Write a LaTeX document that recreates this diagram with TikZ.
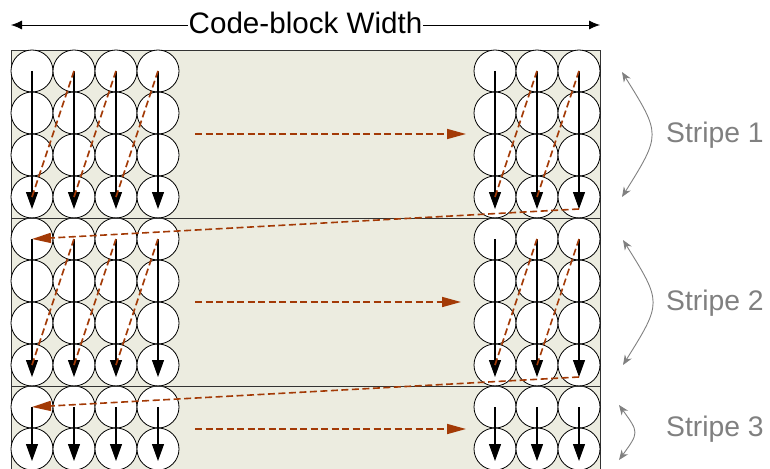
\documentclass[tikz,border=0pt]{standalone}
\usepackage{fontspec}
\setmainfont{Liberation Sans}
\usetikzlibrary{arrows.meta}
\definecolor{sheet}{RGB}{236,236,224}
\definecolor{scan}{RGB}{163,58,6}
\definecolor{note}{RGB}{128,128,128}
\tikzset{
  cell/.style={circle, draw=black, fill=white, line width=0.8pt, minimum size=42pt, inner sep=0pt},
  colpass/.style={draw=black, line width=1.1pt, -{Triangle[length=17pt,width=12pt]}},
  scanline/.style={draw=scan, line width=1.6pt, dash pattern=on 7pt off 3.5pt},
  scanarrow/.style={scanline, -{Triangle[length=19pt,width=10pt]}},
  stripearrow/.style={draw=note, line width=0.9pt, {Stealth[length=10pt,width=8pt]}-{Stealth[length=10pt,width=8pt]}},
  stripelabel/.style={text=note, font=\fontsize{28.3pt}{32pt}\selectfont, anchor=base west, inner sep=0pt},
}
\begin{document}
\begin{tikzpicture}[x=1pt,y=-1pt]
\useasboundingbox (0,0) rectangle (770,468);
\clip (0,0) rectangle (770,468);

% code-block area
\draw[fill=sheet, draw=black!80, line width=0.9pt] (11,50) rectangle (600,490);

% coefficient cells: stripe / first-row y / rows
\foreach \s/\ya/\n in {1/71/4, 2/239/4, 3/407/2} {
  \foreach \r in {1,...,\n} {
    \foreach \c/\x in {1/32,2/74,3/116,4/158,5/495,6/537,7/579} {
      \node[cell] (c-\s-\r-\c) at (\x,{\ya+42*(\r-1)}) {};
    }
  }
}

% stripe boundaries
\draw[black!80, line width=0.9pt] (11,218) -- (600,218);
\draw[black!80, line width=0.9pt] (11,386) -- (600,386);

% column-wise passes inside each stripe
\foreach \s/\n in {1/4, 2/4, 3/2} {
  \foreach \c in {1,...,7} {
    \draw[colpass] (c-\s-1-\c.center) -- ([yshift=-12pt]c-\s-\n-\c.center);
  }
}

% jumps from the bottom of one column to the top of the next
\foreach \s in {1,2} {
  \foreach \c/\d in {1/2,2/3,3/4,5/6,6/7} {
    \draw[scanline] (c-\s-4-\c.center) -- (c-\s-1-\d.center);
  }
}

% return to the start of the next stripe
\draw[scanarrow] ([yshift=-12pt]c-1-4-7.center) -- (c-2-1-1.center);
\draw[scanarrow] ([yshift=-12pt]c-2-4-7.center) -- (c-3-1-1.center);

% continuation across the omitted columns
\coordinate (g1a) at (195,134); \coordinate (g1b) at (466,134);
\coordinate (g2a) at (195,302); \coordinate (g2b) at (461,302);
\coordinate (g3a) at (195,429); \coordinate (g3b) at (466,429);
\draw[scanarrow] (g1a) -- (g1b);
\draw[scanarrow] (g2a) -- (g2b);
\draw[scanarrow] (g3a) -- (g3b);

% code-block width
\coordinate (wl) at (11,25);
\coordinate (wr) at (600,25);
\draw[black, line width=0.8pt, {Latex[length=11pt,width=9pt]}-{Latex[length=11pt,width=9pt]}] (wl) -- (wr);
\node[fill=white, inner sep=1pt, anchor=base, font=\fontsize{29.6pt}{34pt}\selectfont] (title) at (305.5,33.5) {Code-block Width};

% stripe extents
\coordinate (s1t) at (622,72);  \coordinate (s1b) at (622,197);
\coordinate (s2t) at (623,240); \coordinate (s2b) at (623,365);
\coordinate (s3t) at (619,405); \coordinate (s3b) at (619,460);
\draw[stripearrow] (s1t) .. controls (661,134.5) .. (s1b);
\draw[stripearrow] (s2t) .. controls (662,302.5) .. (s2b);
\draw[stripearrow] (s3t) .. controls (639,432.5) .. (s3b);
\node[stripelabel] (lab1) at (666,142) {Stripe 1};
\node[stripelabel] (lab2) at (666,310.5) {Stripe 2};
\node[stripelabel] (lab3) at (666,436) {Stripe 3};
\end{tikzpicture}
\end{document}
